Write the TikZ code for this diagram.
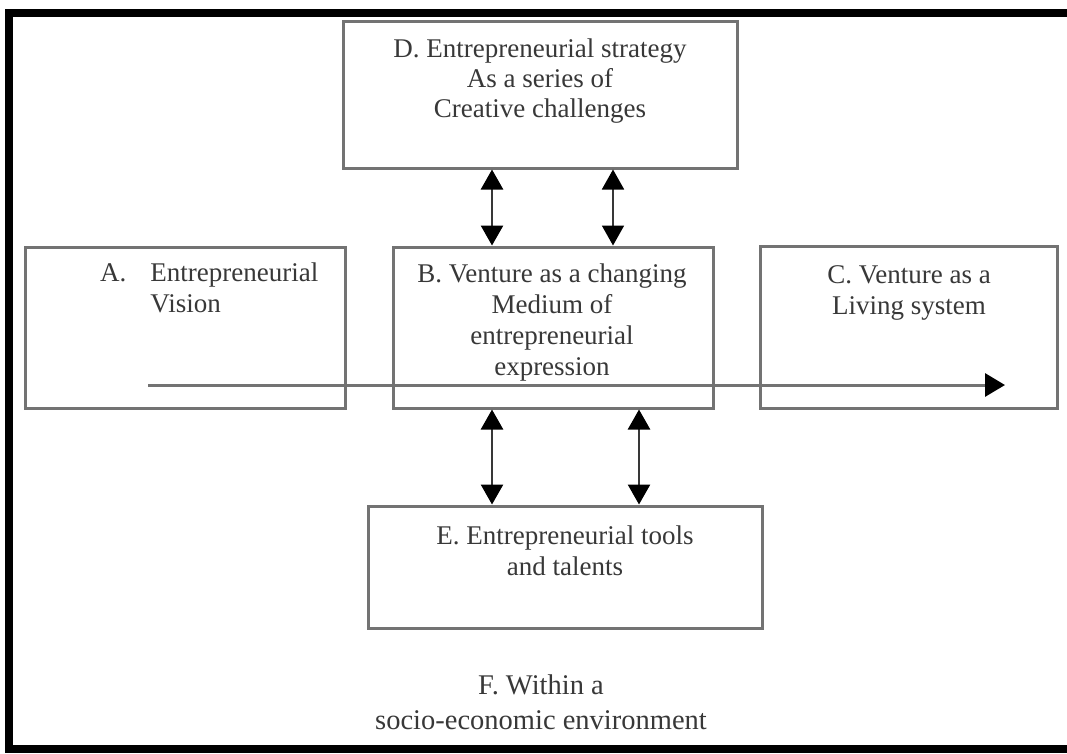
\documentclass[tikz,border=0pt]{standalone}
\usepackage{fontspec}
\setmainfont{Liberation Serif}
\usetikzlibrary{arrows.meta}
\definecolor{boxgray}{gray}{0.45}
\definecolor{inkgray}{gray}{0.22}
\begin{document}
\begin{tikzpicture}[x=1pt,y=-1pt,
  box/.style={draw=boxgray, line width=3pt, inner sep=0pt},
  label/.style={text=inkgray, font=\fontsize{27}{31}\selectfont, align=center, inner sep=0pt},
  head/.style={Triangle[length=20pt,width=22pt,color=black]},
  link/.style={draw=inkgray, line width=2.6pt, {Triangle[length=20pt,width=22pt,color=black]}-{Triangle[length=20pt,width=22pt,color=black]}},
  thinlink/.style={link, line width=1.8pt},
  flow/.style={draw=boxgray, line width=3pt, -{Triangle[length=20pt,width=23pt,color=black]}}]
\useasboundingbox (0,0) rectangle (1067,753);
\clip (0,0) rectangle (1067,753);
\fill[white] (0,0) rectangle (1067,753);

% outer frame
\draw[line width=8pt] (9,13) rectangle (1090,749);

% boxes
\node[box, minimum width=394pt, minimum height=147pt] (D) at (540,94.5) {};
\node[box, minimum width=320pt, minimum height=161pt] (A) at (185,327.5) {};
\node[box, minimum width=320pt, minimum height=161pt] (B) at (553,327.5) {};
\node[box, minimum width=297pt, minimum height=162pt] (C) at (908.5,327) {};
\node[box, minimum width=394pt, minimum height=122pt] (E) at (565,567) {};

% box texts
\node[label, font=\fontsize{27}{30}\selectfont] (Dtext) at (540,81) {D. Entrepreneurial strategy\\As a series of\\Creative challenges};
\node[label, anchor=west, align=left] (Atext) at (100,291) {\begin{tabular}{@{}l@{\hspace{24pt}}l@{}}A. & Entrepreneurial\\ & Vision\end{tabular}};
\node[label] (Btext) at (552,322) {B. Venture as a changing\\Medium of\\entrepreneurial\\expression};
\node[label] (Ctext) at (909,293) {C. Venture as a\\Living system};
\node[label] (Etext) at (565,551) {E. Entrepreneurial tools\\and talents};
\node[label, font=\fontsize{28.5}{35}\selectfont] (Ftext) at (541,702) {F. Within a\\socio-economic environment};

% main flow across the ventures
\coordinate (flowstart) at (148,385);
\coordinate (flowend) at (1005,385);
\draw[flow] (flowstart) -- (flowend);

% exchanges between strategy, venture and tools
\draw[link] ([xshift=-48pt]D.south) -- ([xshift=-48pt]D.south |- B.north);
\draw[thinlink] ([xshift=73pt]D.south) -- ([xshift=73pt]D.south |- B.north);
\draw[link] ([xshift=-61pt]B.south) -- ([xshift=-61pt]B.south |- E.north);
\draw[link] ([xshift=86pt]B.south) -- ([xshift=86pt]B.south |- E.north);
\end{tikzpicture}
\end{document}
